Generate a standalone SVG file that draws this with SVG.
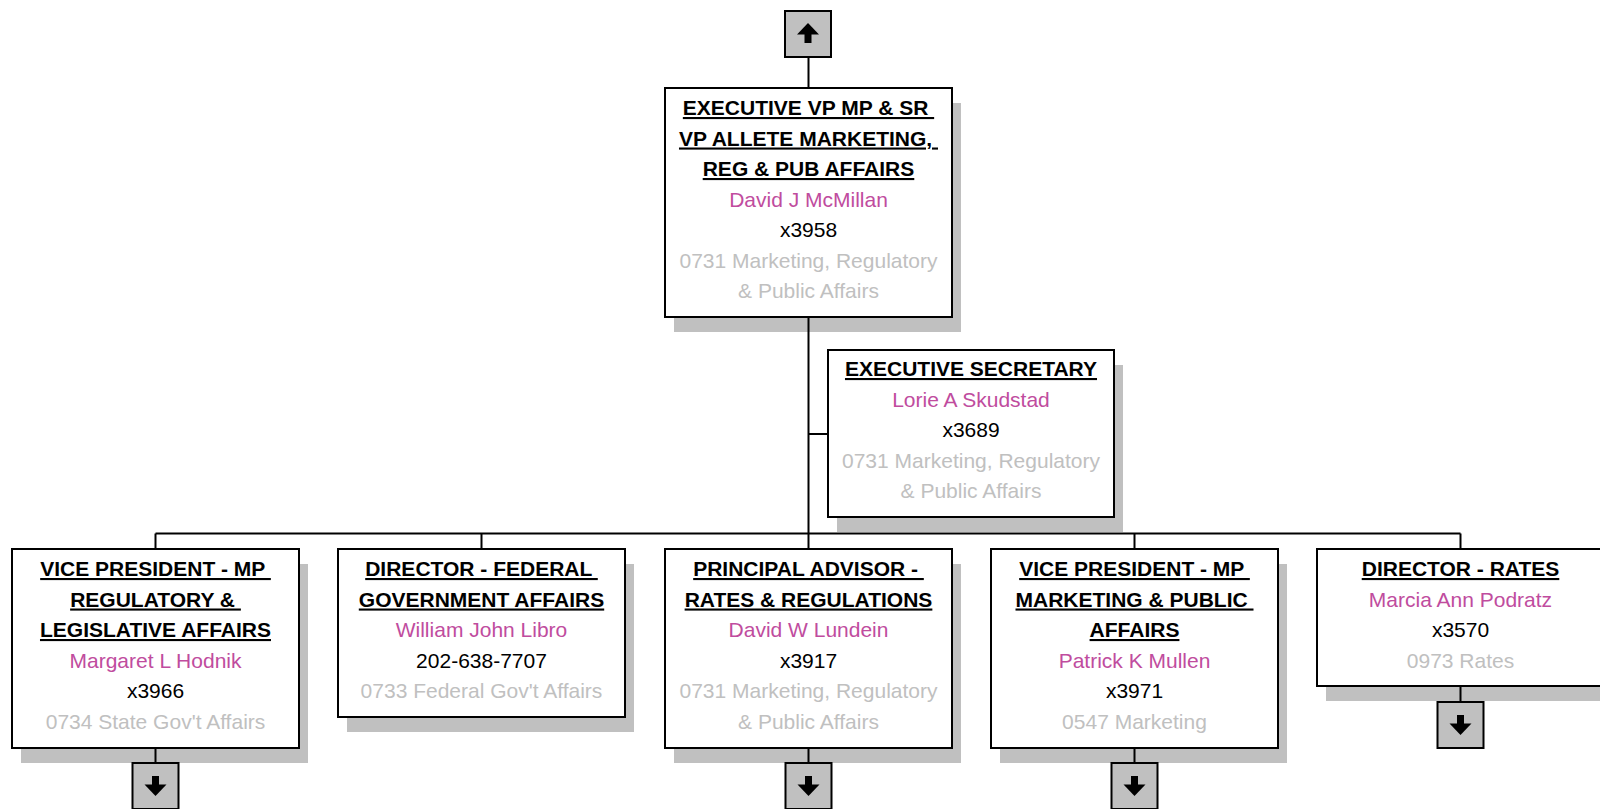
<svg xmlns="http://www.w3.org/2000/svg" xmlns:xlink="http://www.w3.org/1999/xlink" width="1600" height="809" viewBox="0 0 1600 809">
<style>
  .box { fill: #ffffff; stroke: #000000; stroke-width: 2; }
  .shadow { fill: #c0c0c0; stroke: none; }
  .abox { fill: #c0c0c0; stroke: #000000; stroke-width: 2; }
  .conn { stroke: #000000; stroke-width: 2; fill: none; }
  text { font-family: "Liberation Sans", Arial, sans-serif; font-size: 21px; text-anchor: middle; white-space: pre; }
  .title { font-weight: bold; fill: #000000; text-decoration: underline; }
  .name { fill: #c04c9e; }
  .phone { fill: #000000; }
  .dept { fill: #c0c0c0; }
</style>
<defs>
  <g id="arrowDown">
    <rect x="-3.5" y="13" width="7" height="9" fill="#000"/>
    <polygon points="-11,21.5 11,21.5 0,33" fill="#000"/>
  </g>
  <g id="arrowUp">
    <polygon points="-11,23.5 11,23.5 0,12" fill="#000"/>
    <rect x="-3.5" y="23" width="7" height="9" fill="#000"/>
  </g>
</defs>

<g id="shadows">
  <rect class="shadow" x="674" y="103" width="287" height="229"/>
  <rect class="shadow" x="837" y="365" width="286" height="167"/>
  <rect class="shadow" x="21" y="564" width="287" height="199"/>
  <rect class="shadow" x="347" y="564" width="287" height="168"/>
  <rect class="shadow" x="674" y="564" width="287" height="199"/>
  <rect class="shadow" x="1000" y="564" width="287" height="199"/>
  <rect class="shadow" x="1326" y="564" width="287" height="137"/>
</g>

<g id="connectors">
  <line class="conn" x1="808.5" y1="57" x2="808.5" y2="88"/>
  <line class="conn" x1="808.5" y1="317" x2="808.5" y2="549"/>
  <line class="conn" x1="808.5" y1="434" x2="828" y2="434"/>
  <line class="conn" x1="155.5" y1="533.5" x2="1460.5" y2="533.5"/>
  <line class="conn" x1="155.5" y1="533.5" x2="155.5" y2="549"/>
  <line class="conn" x1="481.5" y1="533.5" x2="481.5" y2="549"/>
  <line class="conn" x1="1134.5" y1="533.5" x2="1134.5" y2="549"/>
  <line class="conn" x1="1460.5" y1="533.5" x2="1460.5" y2="549"/>
  <line class="conn" x1="155.5" y1="748" x2="155.5" y2="763"/>
  <line class="conn" x1="808.5" y1="748" x2="808.5" y2="763"/>
  <line class="conn" x1="1134.5" y1="748" x2="1134.5" y2="763"/>
  <line class="conn" x1="1460.5" y1="686" x2="1460.5" y2="702"/>
</g>

<g id="nav-up">
  <rect class="abox" x="785" y="11" width="46" height="46"/>
  <use xlink:href="#arrowUp" href="#arrowUp" x="808" y="11"/>
</g>

<g id="node-evp">
  <rect class="box" x="665" y="88" width="287" height="229"/>
  <text class="title" x="808.5" y="115">EXECUTIVE VP MP &amp; SR </text>
  <text class="title" x="808.5" y="145.5">VP ALLETE MARKETING, </text>
  <text class="title" x="808.5" y="176">REG &amp; PUB AFFAIRS</text>
  <text class="name" x="808.5" y="206.5">David J McMillan</text>
  <text class="phone" x="808.5" y="237">x3958</text>
  <text class="dept" x="808.5" y="267.5">0731 Marketing, Regulatory</text>
  <text class="dept" x="808.5" y="298">&amp; Public Affairs</text>
</g>

<g id="node-secretary">
  <rect class="box" x="828" y="350" width="286" height="167"/>
  <text class="title" x="971" y="376">EXECUTIVE SECRETARY</text>
  <text class="name" x="971" y="406.5">Lorie A Skudstad</text>
  <text class="phone" x="971" y="437">x3689</text>
  <text class="dept" x="971" y="467.5">0731 Marketing, Regulatory</text>
  <text class="dept" x="971" y="498">&amp; Public Affairs</text>
</g>

<g id="node-vp-regulatory">
  <rect class="box" x="12" y="549" width="287" height="199"/>
  <text class="title" x="155.5" y="576">VICE PRESIDENT - MP </text>
  <text class="title" x="155.5" y="606.5">REGULATORY &amp; </text>
  <text class="title" x="155.5" y="637">LEGISLATIVE AFFAIRS</text>
  <text class="name" x="155.5" y="667.5">Margaret L Hodnik</text>
  <text class="phone" x="155.5" y="698">x3966</text>
  <text class="dept" x="155.5" y="728.5">0734 State Gov't Affairs</text>
</g>

<g id="node-dir-federal">
  <rect class="box" x="338" y="549" width="287" height="168"/>
  <text class="title" x="481.5" y="576">DIRECTOR - FEDERAL </text>
  <text class="title" x="481.5" y="606.5">GOVERNMENT AFFAIRS</text>
  <text class="name" x="481.5" y="637">William John Libro</text>
  <text class="phone" x="481.5" y="667.5">202-638-7707</text>
  <text class="dept" x="481.5" y="698">0733 Federal Gov't Affairs</text>
</g>

<g id="node-principal-advisor">
  <rect class="box" x="665" y="549" width="287" height="199"/>
  <text class="title" x="808.5" y="576">PRINCIPAL ADVISOR - </text>
  <text class="title" x="808.5" y="606.5">RATES &amp; REGULATIONS</text>
  <text class="name" x="808.5" y="637">David W Lundein</text>
  <text class="phone" x="808.5" y="667.5">x3917</text>
  <text class="dept" x="808.5" y="698">0731 Marketing, Regulatory</text>
  <text class="dept" x="808.5" y="728.5">&amp; Public Affairs</text>
</g>

<g id="node-vp-marketing">
  <rect class="box" x="991" y="549" width="287" height="199"/>
  <text class="title" x="1134.5" y="576">VICE PRESIDENT - MP </text>
  <text class="title" x="1134.5" y="606.5">MARKETING &amp; PUBLIC </text>
  <text class="title" x="1134.5" y="637">AFFAIRS</text>
  <text class="name" x="1134.5" y="667.5">Patrick K Mullen</text>
  <text class="phone" x="1134.5" y="698">x3971</text>
  <text class="dept" x="1134.5" y="728.5">0547 Marketing</text>
</g>

<g id="node-dir-rates">
  <rect class="box" x="1317" y="549" width="287" height="137"/>
  <text class="title" x="1460.5" y="576">DIRECTOR - RATES</text>
  <text class="name" x="1460.5" y="606.5">Marcia Ann Podratz</text>
  <text class="phone" x="1460.5" y="637">x3570</text>
  <text class="dept" x="1460.5" y="667.5">0973 Rates</text>
</g>

<g id="nav-down">
  <rect class="abox" x="132.5" y="763" width="46" height="46"/>
  <use xlink:href="#arrowDown" href="#arrowDown" x="155.5" y="763"/>
  <rect class="abox" x="785.5" y="763" width="46" height="46"/>
  <use xlink:href="#arrowDown" href="#arrowDown" x="808.5" y="763"/>
  <rect class="abox" x="1111.5" y="763" width="46" height="46"/>
  <use xlink:href="#arrowDown" href="#arrowDown" x="1134.5" y="763"/>
  <rect class="abox" x="1437.5" y="702" width="46" height="46"/>
  <use xlink:href="#arrowDown" href="#arrowDown" x="1460.5" y="702"/>
</g>
</svg>
